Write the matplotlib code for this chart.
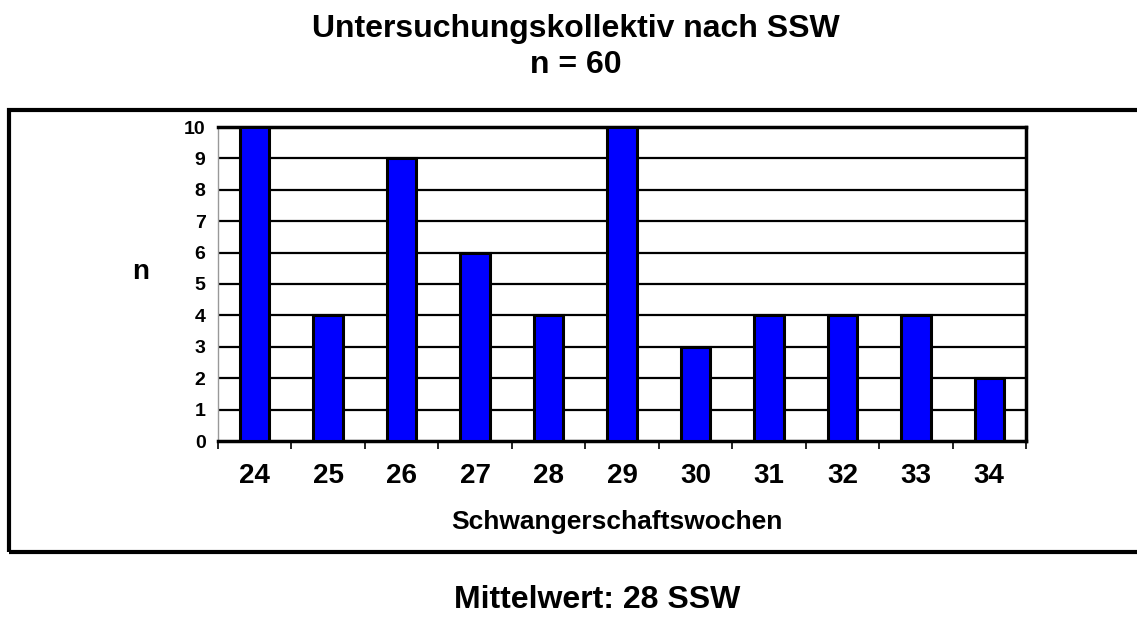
import matplotlib.pyplot as plt
from matplotlib.patches import Rectangle
import numpy as np

plt.rcParams['font.family'] = ['Liberation Sans', 'DejaVu Sans']
plt.rcParams['font.weight'] = 'bold'

wochen = ["24", "25", "26", "27", "28", "29", "30", "31", "32", "33", "34"]
anzahl = [10, 4, 9, 6, 4, 10, 3, 4, 4, 4, 2]

W, H = 1137, 618
fig = plt.figure(figsize=(W / 100, H / 100), dpi=100)

# aeusserer Rahmen (rechts abgeschnitten wie im Original)
rahmen = Rectangle((9 / W, 1 - 552 / H), 1.2, (552 - 110) / H,
                   transform=fig.transFigure, fill=False, edgecolor="black",
                   linewidth=3, zorder=0)
fig.patches.append(rahmen)

ax = fig.add_axes([218 / W, 1 - 441 / H, (1026 - 218) / W, (441 - 127) / H])

x = np.arange(len(wochen))
ax.bar(x, anzahl, width=0.40, color="#0000FF", edgecolor="black", linewidth=2.2, zorder=3)

ax.set_xlim(-0.5, len(wochen) - 0.5)
ax.set_ylim(0, 10)
ax.set_yticks(range(0, 11))
ax.tick_params(axis="y", labelsize=14, length=0, pad=9)
for lbl in ax.get_yticklabels():
    lbl.set_fontweight("bold")

ax.set_xticks(x)
ax.set_xticklabels(wochen, fontsize=20, fontweight="bold")
ax.tick_params(axis="x", which="major", length=0, pad=16)
ax.set_xticks(np.arange(-0.5, len(wochen)), minor=True)
ax.tick_params(axis="x", which="minor", length=6, width=1.2)

for y in range(1, 10):
    ax.axhline(y, color="black", linewidth=1.6, zorder=1)

ax.spines["left"].set_linewidth(1)
ax.spines["left"].set_color("#999999")
for s in ["top", "right", "bottom"]:
    ax.spines[s].set_linewidth(2.5)

fig.text(617 / W, 1 - 522 / H, "Schwangerschaftswochen", fontsize=19, fontweight="bold",
         ha="center", va="center")
fig.text(141 / W, 1 - 272 / H, "n", fontsize=20, fontweight="bold", ha="center", va="center")

fig.text(576 / W, 1 - 29 / H, "Untersuchungskollektiv nach SSW", fontsize=23,
         fontweight="bold", ha="center", va="center")
fig.text(576 / W, 1 - 65 / H, "n = 60", fontsize=23, fontweight="bold",
         ha="center", va="center")
fig.text(597 / W, 1 - 600 / H, "Mittelwert: 28 SSW", fontsize=23, fontweight="bold",
         ha="center", va="center")

fig.savefig("out.png", dpi=100)
